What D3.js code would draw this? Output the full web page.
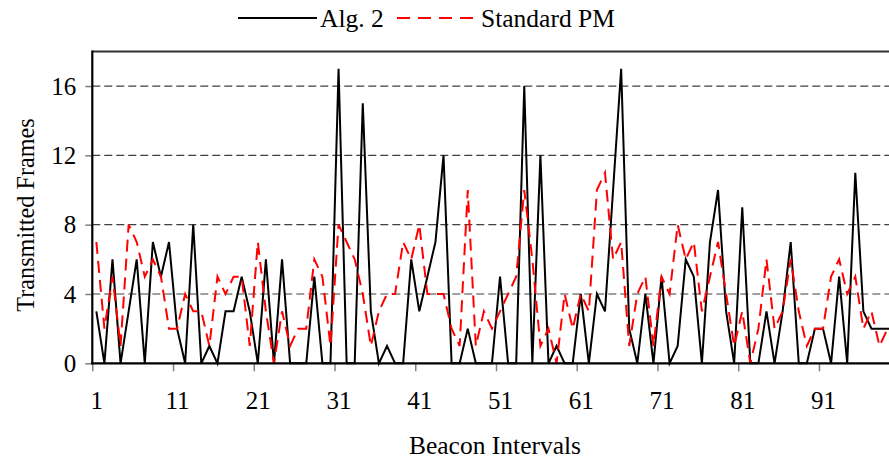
<!DOCTYPE html>
<html><head><meta charset="utf-8">
<script src="https://cdn.jsdelivr.net/npm/d3@7"></script>
<style>
body{margin:0;background:#fff}
svg{display:block}
text{font-family:"Liberation Serif","Times New Roman",serif}
</style>
</head><body><svg id="c" width="889" height="462"></svg>
<script>
const intervals = d3.range(1, 101);
const alg2 = [3,0,6,0,3,6,0,7,5,7, 2,0,8,0,1,0,3,3,5,3, 0,6,0,6,0,0,0,5,0,0,
  17,0,0,15,3,0,1,0,0,6, 3,5,7,12,0,0,2,0,0,0, 5,0,0,16,0,12,0,1,0,0,
  4,0,4,3,10,17,2,0,4,0, 5,0,1,6,5,0,7,10,3,0, 9,0,0,3,0,3,7,0,0,2,
  2,0,5,0,11,3,2,2,2,2];
const standardPM = [7,2,5,1,8,7,5,6,5,2, 2,4,3,3,1,5,4,5,5,1, 7,3,0,3,1,2,2,6,5,1,
  8,7,6,4,1,3,4,4,7,6, 8,4,4,4,2,1,10,1,3,2, 3,4,5,10,6,1,2,0,4,2,
  4,3,10,11,6,7,1,4,5,1, 5,4,8,6,7,3,5,7,4,1, 3,0,2,6,2,3,6,3,1,2,
  2,5,6,4,5,2,3,1,2,2];
const yTicks = [0, 4, 8, 12, 16];
const xTickLabels = [1, 11, 21, 31, 41, 51, 61, 71, 81, 91];
const seriesNames = ["Alg. 2", "Standard PM"];
const xTitle = "Beacon Intervals";
const yTitle = "Transmitted Frames";

const W = 889, H = 462;
const L = 92.3, T = 51.4, B = 363.3, band = 8.074;
const svg = d3.select("#c");
const x = d3.scaleLinear().domain([0.5, 100.5]).range([L, L + band * 100]);
const y = d3.scaleLinear().domain([0, 18]).range([B, T]);
const FS = 25;

// gridlines
svg.append("g").selectAll("line").data(yTicks.filter(d => d > 0)).join("line")
  .attr("x1", L).attr("x2", W).attr("y1", d => y(d)).attr("y2", d => y(d))
  .attr("stroke", "#404040").attr("stroke-width", 1.2).attr("stroke-dasharray", "8,4");

// top frame
svg.append("line").attr("x1", L).attr("x2", W).attr("y1", T).attr("y2", T)
  .attr("stroke", "#333").attr("stroke-width", 2);

// series
const line = d3.line().x((d, i) => x(intervals[i])).y(d => y(d));
svg.append("path").datum(alg2).attr("d", line).attr("fill", "none")
  .attr("stroke", "#000").attr("stroke-width", 2).attr("stroke-linejoin", "miter");
svg.append("path").datum(standardPM).attr("d", line).attr("fill", "none")
  .attr("stroke", "#ff0000").attr("stroke-width", 2).attr("stroke-dasharray", "12,7");

// x axis ticks (at category boundaries)
const gx = svg.append("g").attr("transform", `translate(0,${B})`)
  .call(d3.axisBottom(x).tickValues(xTickLabels.map(d => d - 0.5)).tickFormat("").tickSize(8).tickSizeOuter(0));
gx.select(".domain").remove();
gx.selectAll(".tick line").attr("stroke", "#808080").attr("stroke-width", 1.5);
// x labels at category centers
const gxl = svg.append("g").attr("transform", `translate(0,${B})`)
  .call(d3.axisBottom(x).tickValues(xTickLabels).tickSize(0).tickSizeOuter(0));
gxl.select(".domain").remove();
gxl.selectAll(".tick text").attr("y", 409 - B).attr("dy", null)
  .attr("font-size", FS).attr("font-family", "Liberation Serif").attr("fill", "#000");

// y axis
const gy = svg.append("g").attr("transform", `translate(${L},0)`)
  .call(d3.axisLeft(y).tickValues(yTicks).tickSize(7).tickPadding(9).tickSizeOuter(0));
gy.select(".domain").remove();
gy.selectAll(".tick line").attr("stroke", "#808080").attr("stroke-width", 1.5);
gy.selectAll(".tick text").attr("font-size", FS).attr("font-family", "Liberation Serif")
  .attr("fill", "#000").attr("dy", "0.33em");

// axis lines
svg.append("line").attr("x1", L).attr("x2", L).attr("y1", T - 1).attr("y2", B + 1)
  .attr("stroke", "#000").attr("stroke-width", 2.2);
svg.append("line").attr("x1", L - 1).attr("x2", W).attr("y1", B).attr("y2", B)
  .attr("stroke", "#000").attr("stroke-width", 2.2);

// titles
svg.append("text").attr("x", 495).attr("y", 454).attr("text-anchor", "middle")
  .attr("font-size", 25.5).text(xTitle);
svg.append("text").attr("transform", "translate(34,215) rotate(-90)").attr("text-anchor", "middle")
  .attr("font-size", 24.2).text(yTitle);

// legend
const lg = svg.append("g");
lg.append("line").attr("x1", 238).attr("x2", 317).attr("y1", 18).attr("y2", 18)
  .attr("stroke", "#000").attr("stroke-width", 2);
lg.append("text").attr("x", 320).attr("y", 27).attr("font-size", 25.5).text(seriesNames[0]);
lg.append("line").attr("x1", 397).attr("x2", 474).attr("y1", 18).attr("y2", 18)
  .attr("stroke", "#ff0000").attr("stroke-width", 2).attr("stroke-dasharray", "13,8");
lg.append("text").attr("x", 481).attr("y", 27).attr("font-size", 25.5).text(seriesNames[1]);
</script>
</body></html>
